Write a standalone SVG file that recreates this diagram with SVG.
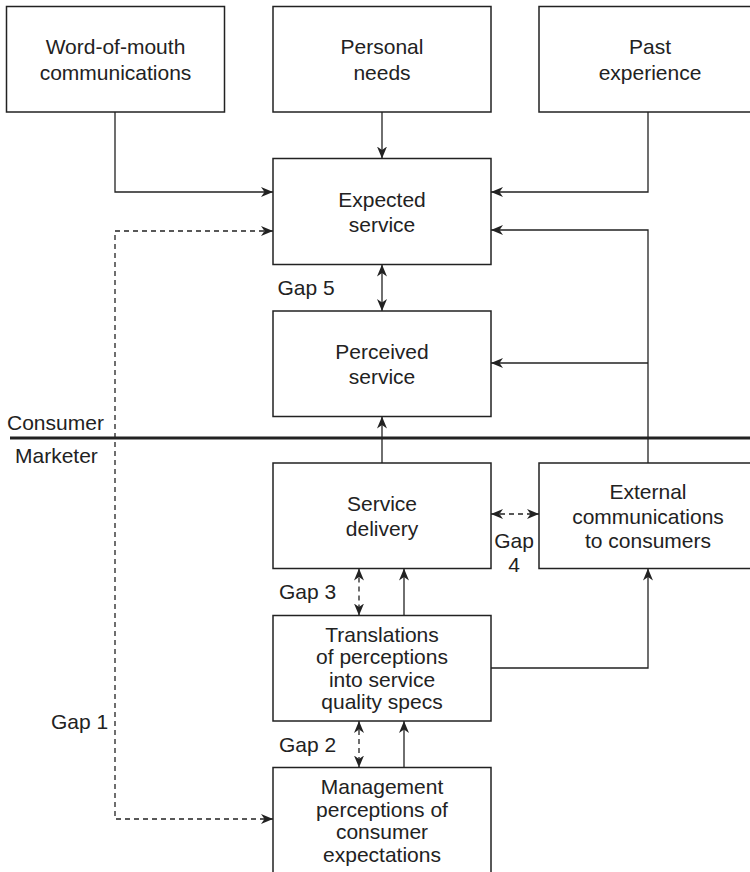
<svg xmlns="http://www.w3.org/2000/svg" width="750" height="872" viewBox="0 0 750 872">
<style>
.box{fill:#fff;stroke:#222;stroke-width:1.5}
.t{font-family:"Liberation Sans",Arial,sans-serif;font-size:21px;fill:#222;text-anchor:middle}
.l{font-family:"Liberation Sans",Arial,sans-serif;font-size:21px;fill:#222}
.c{fill:none;stroke:#222;stroke-width:1.3}
.d{fill:none;stroke:#222;stroke-width:1.3;stroke-dasharray:5,4}
.a{marker-end:url(#arr)}
.b{marker-start:url(#arr);marker-end:url(#arr)}
</style>
<defs>
<marker id="arr" viewBox="0 0 12 10" refX="12" refY="5" markerWidth="12" markerHeight="10" markerUnits="userSpaceOnUse" orient="auto-start-reverse">
<path d="M0,0 L12,5 L0,10 L3.5,5 z" fill="#222"/>
</marker>
</defs>
<rect width="750" height="872" fill="#fff"/>

<g id="connectors">
<path class="c a" d="M115,112 V192 H273"/>
<path class="c a" d="M382,112 V158.5"/>
<path class="c a" d="M648,112 V192 H491"/>
<path class="c a" d="M648,463 V230 H491"/>
<path class="c a" d="M648,363 H491"/>
<path class="c b" d="M382,264.5 V311"/>
<path class="c a" d="M382,463 V416.5"/>
<path class="d b" d="M491,514 H539"/>
<path class="d b" d="M359,568.5 V615.5"/>
<path class="c a" d="M404,615.5 V568.5"/>
<path class="c a" d="M491,668 H648 V568.5"/>
<path class="d b" d="M359,721 V767.5"/>
<path class="c a" d="M404,767.5 V721"/>
<path class="d b" d="M273,231 H115 V819 H273"/>
<path d="M10,438 H750" stroke="#222" stroke-width="3" fill="none"/>
</g>

<g id="wom">
<rect class="box" x="6.5" y="6.5" width="218" height="105.5"/>
<text class="t" x="115.5" y="54">Word-of-mouth</text>
<text class="t" x="115.5" y="80">communications</text>
</g>
<g id="personal-needs">
<rect class="box" x="273" y="6.5" width="218" height="105.5"/>
<text class="t" x="382" y="54">Personal</text>
<text class="t" x="382" y="80">needs</text>
</g>
<g id="past-experience">
<rect class="box" x="539" y="6.5" width="222" height="105.5"/>
<text class="t" x="650" y="54">Past</text>
<text class="t" x="650" y="80">experience</text>
</g>
<g id="expected-service">
<rect class="box" x="273" y="158.5" width="218" height="106"/>
<text class="t" x="382" y="207">Expected</text>
<text class="t" x="382" y="232">service</text>
</g>
<g id="perceived-service">
<rect class="box" x="273" y="311" width="218" height="105.5"/>
<text class="t" x="382" y="359">Perceived</text>
<text class="t" x="382" y="384">service</text>
</g>
<g id="service-delivery">
<rect class="box" x="273" y="463" width="218" height="105.5"/>
<text class="t" x="382" y="511">Service</text>
<text class="t" x="382" y="536">delivery</text>
</g>
<g id="external-communications">
<rect class="box" x="539" y="463" width="222" height="105.5"/>
<text class="t" x="648" y="499">External</text>
<text class="t" x="648" y="524">communications</text>
<text class="t" x="648" y="548">to consumers</text>
</g>
<g id="translations">
<rect class="box" x="273" y="615.5" width="218" height="105.5"/>
<text class="t" x="382" y="641.5">Translations</text>
<text class="t" x="382" y="664">of perceptions</text>
<text class="t" x="382" y="686.5">into service</text>
<text class="t" x="382" y="709">quality specs</text>
</g>
<g id="management">
<rect class="box" x="273" y="767.5" width="218" height="115"/>
<text class="t" x="382" y="794">Management</text>
<text class="t" x="382" y="816.5">perceptions of</text>
<text class="t" x="382" y="839">consumer</text>
<text class="t" x="382" y="861.5">expectations</text>
</g>

<g id="labels">
<text class="l" x="277.5" y="295">Gap 5</text>
<text class="l" x="7" y="430">Consumer</text>
<text class="l" x="15" y="463">Marketer</text>
<text class="t" x="514" y="548">Gap</text>
<text class="t" x="514" y="572">4</text>
<text class="l" x="279" y="599">Gap 3</text>
<text class="l" x="51" y="729">Gap 1</text>
<text class="l" x="279" y="752">Gap 2</text>
</g>
</svg>
